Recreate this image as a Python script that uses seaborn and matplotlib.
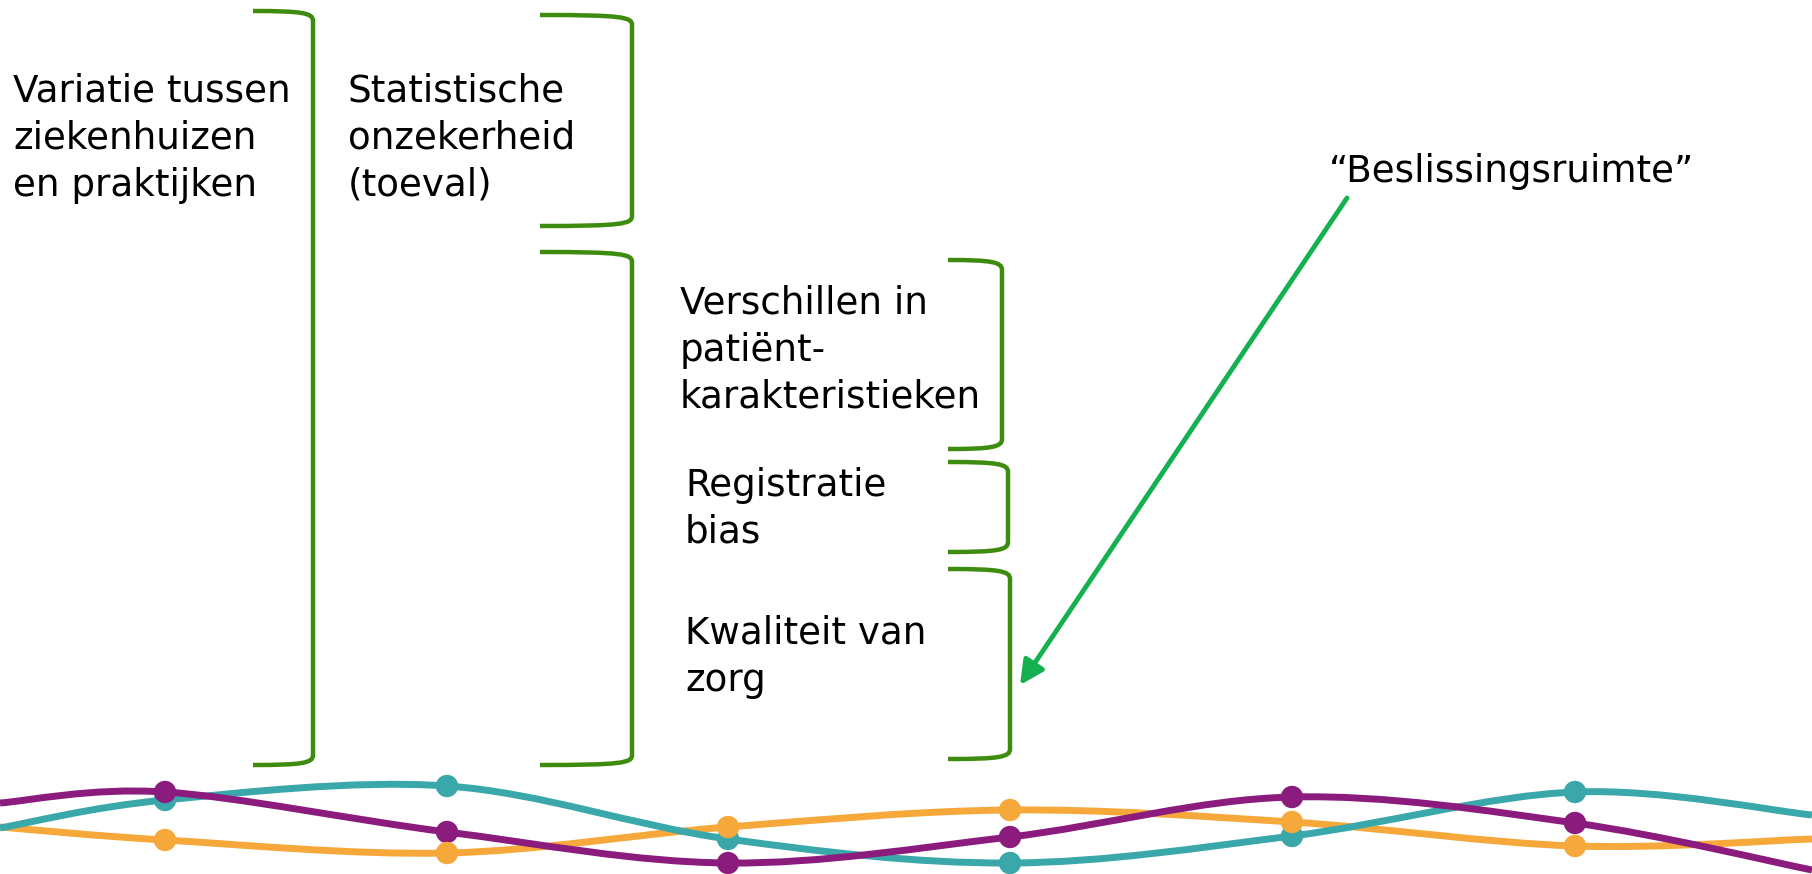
import numpy as np
import pandas as pd
import seaborn as sns
import matplotlib.pyplot as plt
from matplotlib.path import Path
from matplotlib.patches import PathPatch

# --- Data (pixel space 1812 x 874) ---
wave_x = [0, 165, 447, 728, 1010, 1292, 1575, 1812]
teal_y = [828, 800, 786, 839, 863, 836, 792, 815]
purple_y = [803, 792, 832, 863, 837, 797, 823, 870]
orange_y = [827, 840, 853, 827, 810, 822, 846, 839]

labels = [
    "Variatie tussen\nziekenhuizen\nen praktijken",
    "Statistische\nonzekerheid\n(toeval)",
    "Verschillen in\npatiënt-\nkarakteristieken",
    "Registratie\nbias",
    "Kwaliteit van\nzorg",
]
label_pos = [(13, 73), (348, 73), (680, 285), (685, 467), (685, 615)]

# brackets: (x_left, x_right, top, bottom)
brackets = [
    (253, 313, 11, 765),
    (540, 632, 15, 226),
    (540, 632, 252, 765),
    (948, 1002, 260, 449),
    (948, 1008, 462, 552),
    (948, 1010, 569, 759),
]

callout = "\u201cBeslissingsruimte\u201d"

BRACKET_GREEN = "#3d8c10"
ARROW_GREEN = "#15b04f"
TEAL = "#3aa7aa"
PURPLE = "#8b1b7d"
ORANGE = "#f7a83b"


def smooth_path(xs, ys):
    # Catmull-Rom through the points, rendered as cubic bezier segments
    pts = np.column_stack([xs, ys]).astype(float)
    verts = [pts[0]]
    codes = [Path.MOVETO]
    n = len(pts)
    for i in range(n - 1):
        p0 = pts[max(i - 1, 0)]
        p1 = pts[i]
        p2 = pts[i + 1]
        p3 = pts[min(i + 2, n - 1)]
        c1 = p1 + (p2 - p0) / 6.0
        c2 = p2 - (p3 - p1) / 6.0
        verts += [c1, c2, p2]
        codes += [Path.CURVE4] * 3
    return Path(verts, codes)


def bracket_path(x0, x1, top, bot, r=10):
    verts = [
        (x0, top), (x1 - r, top), (x1, top + 2), (x1, top + r),
        (x1, bot - r), (x1, bot - 2), (x1 - r, bot), (x0, bot),
    ]
    codes = [
        Path.MOVETO, Path.CURVE4, Path.CURVE4, Path.CURVE4,
        Path.LINETO, Path.CURVE4, Path.CURVE4, Path.CURVE4,
    ]
    return Path(verts, codes)


sns.set_theme(style="white")
plt.rcParams["font.family"] = ["DejaVu Sans"]

fig = plt.figure(figsize=(18.12, 8.74), dpi=100)
ax = fig.add_axes([0, 0, 1, 1])
ax.set_xlim(0, 1812)
ax.set_ylim(874, 0)
ax.axis("off")

# brackets
for x0, x1, top, bot in brackets:
    ax.add_patch(PathPatch(bracket_path(x0, x1, top, bot), facecolor="none",
                           edgecolor=BRACKET_GREEN, lw=3.2, capstyle="butt"))

# labels
for text, (x, y) in zip(labels, label_pos):
    ax.text(x, y, text, fontsize=26.8, ha="left", va="top", color="black",
            linespacing=1.34)

ax.text(1329, 172, callout, fontsize=26.8, ha="left", va="center", color="black")

# arrow to "Kwaliteit van zorg"
ax.annotate("", xy=(1020, 685), xytext=(1347, 198),
            arrowprops=dict(arrowstyle="-|>,head_length=1.2,head_width=0.6",
                            color=ARROW_GREEN, lw=3.5, shrinkA=0, shrinkB=0))

# waves
waves = pd.DataFrame({
    "x": wave_x * 3,
    "y": teal_y + purple_y + orange_y,
    "serie": ["teal"] * len(wave_x) + ["purple"] * len(wave_x) + ["orange"] * len(wave_x),
})
palette = {"teal": TEAL, "purple": PURPLE, "orange": ORANGE}
for name in ["orange", "teal", "purple"]:
    sub = waves[waves["serie"] == name]
    ax.add_patch(PathPatch(smooth_path(sub["x"].values, sub["y"].values),
                           facecolor="none", edgecolor=palette[name], lw=5.0,
                           capstyle="butt", zorder=2))

inner = waves[(waves["x"] > 0) & (waves["x"] < 1812)]
sns.scatterplot(data=inner, x="x", y="y", hue="serie", palette=palette,
                s=260, linewidth=0, legend=False, ax=ax, zorder=3)
ax.set_xlim(0, 1812)
ax.set_ylim(874, 0)
ax.axis("off")

fig.savefig("out.png", dpi=100, facecolor="white")
